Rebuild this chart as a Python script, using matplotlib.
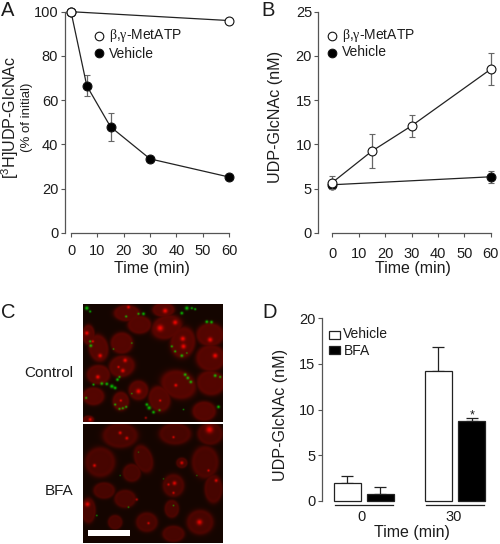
import numpy as np
import matplotlib
matplotlib.use('Agg')
import matplotlib.pyplot as plt
from matplotlib.lines import Line2D
from matplotlib.patches import Rectangle

plt.rcParams['font.family'] = ['Liberation Sans', 'DejaVu Sans']
plt.rcParams['mathtext.fontset'] = 'custom'
plt.rcParams['mathtext.rm'] = 'Liberation Sans'
plt.rcParams['mathtext.it'] = 'Liberation Serif'
plt.rcParams['mathtext.default'] = 'regular'

W, H = 500, 544
TXT = '#1c1c1c'
AX = '#555555'
LBL = r'$\mathit{\beta}$,$\mathit{\gamma}$-MetATP'

# Panel A
a_open_t = [0, 60]
a_open_v = [100, 96]
a_veh_t = [0, 6, 15, 30, 60]
a_veh_v = [100, 66.5, 48, 33.5, 25.3]
a_veh_e = [0, 4.8, 6.3, 0.8, 0.6]
# Panel B
b_open_t = [0, 15, 30, 60]
b_open_v = [5.7, 9.25, 12.1, 18.5]
b_open_e = [0.7, 1.95, 1.2, 1.8]
b_veh_t = [0, 60]
b_veh_v = [5.45, 6.35]
b_veh_e = [0.3, 0.65]
# Panel D
d_groups = ['0', '30']
d_vehicle = [1.9, 14.2]
d_vehicle_e = [0.8, 2.6]
d_bfa = [0.75, 8.7]
d_bfa_e = [0.8, 0.35]

# Panel C: micrograph contents (cx, cy, w, h, angle) in image pixels
ctrl_nuclei = [(265,135,38,62,0),(295,175,60,84,-10),(365,160,68,66,0),(418,105,72,55,0),
    (500,112,96,72,-20),(380,70,80,50,0),(490,60,68,44,0),(548,158,76,96,10),(630,135,84,72,0),
    (632,205,90,82,0),(295,255,72,60,0),(365,230,80,66,-15),(535,285,110,86,20),(632,280,86,76,10),
    (415,302,60,60,0),(362,335,50,58,0),(478,328,66,80,-15),(612,365,72,60,0),(280,320,66,55,0),(265,390,34,24,0)]
ctrl_spots = [(480,115,8),(525,98,6),(548,147,6),(550,170,6),(630,150,6),(645,198,6),(495,63,6),
    (300,198,5),(375,212,5),(368,243,5),(293,262,5),(355,232,3),(415,305,6),(527,287,4),(362,333,3),
    (480,333,3),(278,155,3),(260,130,5),(385,52,4),(270,390,4),(437,385,3)]
ctrl_green = [(260,55,5),(270,65,3),(378,80,3),(415,72,3),(430,72,4),(560,55,5),(575,55,3),(545,70,4),(585,58,3),
    (620,96,4),(634,97,4),(272,168,4),(270,155,3),(340,178,2),(395,160,2),(515,170,3),(525,185,3),(545,198,4),
    (560,190,2),(305,282,4),(320,283,4),(335,290,5),(352,270,4),(358,262,3),(345,295,4),(555,255,4),(563,265,4),
    (572,277,4),(645,258,4),(660,262,3),(258,325,3),(345,345,3),(378,352,3),(368,356,3),(358,358,3),
    (440,345,4),(447,355,5),(460,368,4),(478,362,3),(550,360,2),(655,352,4),(395,312,2),(280,285,3)]
bfa_nuclei = [(360,440,108,76,0),(525,435,98,66,0),(630,435,78,68,0),(300,520,92,92,0),(430,510,55,88,-20),
    (615,520,82,100,0),(545,522,34,32,0),(520,590,66,70,0),(312,605,66,50,0),(375,630,66,55,0),
    (640,600,55,88,0),(265,665,44,78,0),(515,660,44,55,0),(440,700,66,60,0),(600,700,82,76,0),
    (345,700,44,44,0),(520,735,68,50,0),(395,552,55,55,0)]
bfa_spots = [(628,422,9),(360,432,4),(380,448,4),(283,530,4),(505,587,3),(523,583,5),(520,612,3),
    (262,646,6),(598,700,7),(648,575,4),(445,703,3),(625,545,3),(520,445,3),(410,632,3),(545,522,4)]
bfa_green = [(290,680,2),(385,655,2),(520,650,2),(360,560,1.5),(490,570,1.5),(415,490,1.5),(590,560,1.5)]


def render(x0, x1, y0, y1, nuclei, spots, green, nuc_level):
    yy, xx = np.mgrid[y0:y1:1j * (y1 - y0), x0:x1:1j * (x1 - x0)]
    base = 0.08
    r = np.full(xx.shape, base)
    g = np.full(xx.shape, 0.02)
    b = np.full(xx.shape, 0.0)
    for cx, cy, w, h, ang in nuclei:
        t = np.deg2rad(ang)
        dx, dy = xx - cx, yy - cy
        u = (dx * np.cos(t) + dy * np.sin(t)) / (w / 2)
        v = (-dx * np.sin(t) + dy * np.cos(t)) / (h / 2)
        d = np.sqrt(u ** 2 + v ** 2)
        mask = 1 / (1 + np.exp((d - 1) * 10))
        rim = np.exp(-((d - 0.88) / 0.14) ** 2)
        r = np.maximum(r, base + mask * (nuc_level + 0.07 * rim))
    for cx, cy, s in spots:
        r += 0.62 * np.exp(-((xx - cx) ** 2 + (yy - cy) ** 2) / (2 * (0.8 * s) ** 2))
    for cx, cy, s in green:
        e = np.exp(-((xx - cx) ** 2 + (yy - cy) ** 2) / (2 * (0.75 * s) ** 2))
        g += 0.75 * e
        r *= 1 - 0.7 * np.clip(e, 0, 1)
    return np.clip(np.dstack([r, g, b]), 0, 1)


fig = plt.figure(figsize=(W / 100, H / 100), dpi=100, facecolor='white')


def axes_px(x0, y0, x1, y1):
    return fig.add_axes([x0 / W, 1 - y1 / H, (x1 - x0) / W, (y1 - y0) / H])


def txt(x, y, s, size=10, ha='center', va='center', **kw):
    return fig.text(x / W, 1 - y / H, s, fontsize=size, ha=ha, va=va, color=TXT, **kw)


def mark(x, y, fc):
    fig.add_artist(Line2D([x / W], [1 - y / H], marker='o', ms=6.2, mfc=fc, mec='#111111',
                          mew=0.8, ls='none', transform=fig.transFigure))


def style(ax, xb, yb, xticks, yticks):
    for s in ('top', 'right'):
        ax.spines[s].set_visible(False)
    ax.spines['left'].set_bounds(*yb)
    ax.spines['bottom'].set_bounds(*xb)
    for s in ('left', 'bottom'):
        ax.spines[s].set_color(AX)
        ax.spines[s].set_linewidth(0.9)
    ax.set_xticks(xticks)
    ax.set_yticks(yticks)
    ax.tick_params(axis='both', length=3, width=0.8, color=AX, labelsize=10.5, labelcolor=TXT, pad=1.5)
    ax.tick_params(axis='x', pad=5)
    ax.patch.set_alpha(0)


def series(ax, t, v, e, fc, z):
    ax.errorbar(t, v, yerr=e, color='#222222', ecolor='#666666', elinewidth=0.9, capsize=2.2, capthick=0.9,
                marker='o', ms=6.4, mfc=fc, mec='#111111', mew=0.8, lw=0.9, clip_on=False, zorder=z)


# A
axA = axes_px(64.5, 11.7, 229, 233)
axA.set_xlim(-6.5 / (158 / 60), 60)
axA.set_ylim(0, 100)
style(axA, (0, 60), (0, 100), range(0, 61, 10), range(0, 101, 20))
series(axA, a_veh_t, a_veh_v, a_veh_e, '#000000', 3)
series(axA, a_open_t, a_open_v, None, 'white', 4)
txt(1, 10, 'A', 14.5, ha='left')
txt(10, 117, r'[$^{3}$H]UDP-GlcNAc', 11.6, rotation=90)
txt(27, 117, '(% of initial)', 9.5, rotation=90)
txt(152, 268, 'Time (min)', 11.5)
mark(98.7, 36, 'white')
mark(98.7, 52.7, 'black')
txt(109, 36, LBL, 10, ha='left')
txt(109, 53.5, 'Vehicle', 10, ha='left')

# B
axB = axes_px(318.3, 11.7, 490.7, 233)
axB.set_xlim(-14 / (158.4 / 60), 60)
axB.set_ylim(0, 25)
style(axB, (0, 60), (0, 25), range(0, 61, 10), range(0, 26, 5))
axB.tick_params(axis='x', pad=7)
series(axB, b_veh_t, b_veh_v, b_veh_e, '#000000', 3)
series(axB, b_open_t, b_open_v, b_open_e, 'white', 4)
txt(261, 10, 'B', 14.5, ha='left')
txt(275.5, 117, 'UDP-GlcNAc (nM)', 11.6, rotation=90)
txt(413, 268, 'Time (min)', 11.5)
mark(331.5, 36, 'white')
mark(331.5, 52.5, 'black')
txt(342, 36, LBL, 10, ha='left')
txt(342, 52.5, 'Vehicle', 10, ha='left')

# C
axC = axes_px(83, 304, 222, 543)
axC.axis('off')
axC.imshow(render(249, 668, 43, 397, ctrl_nuclei, ctrl_spots, ctrl_green, 0.25),
           extent=(249, 668, 397, 43), aspect='auto', interpolation='bilinear')
axC.imshow(render(249, 668, 406, 762, bfa_nuclei, bfa_spots, bfa_green, 0.20),
           extent=(249, 668, 762, 406), aspect='auto', interpolation='bilinear')
axC.set_xlim(249, 668)
axC.set_ylim(762, 43)
axC.add_patch(Rectangle((265, 724), 125, 16, fc='white', ec='none'))
txt(1, 313, 'C', 14.5, ha='left')
txt(73, 373, 'Control', 11, ha='right')
txt(73, 491, 'BFA', 11, ha='right')

# D
axD = axes_px(321.7, 318.3, 490, 500.7)
gap = 91.3
axD.set_xlim(-42 / gap, 126.3 / gap)
axD.set_ylim(0, 20)
style(axD, (-42 / gap, 126.3 / gap), (0, 20), [], range(0, 21, 5))
axD.spines['bottom'].set_visible(False)
gx = np.arange(len(d_groups))
off, bw = 16.7 / gap, 27 / gap
for xs, vals, errs, fc in ((gx - off, d_vehicle, d_vehicle_e, 'white'), (gx + off, d_bfa, d_bfa_e, 'black')):
    axD.bar(xs, vals, bw, color=fc, edgecolor='#222222', lw=0.9, clip_on=False, zorder=3)
    axD.errorbar(xs, vals, yerr=[np.zeros(2), errs], fmt='none', ecolor='#222222',
                 elinewidth=0.9, capsize=4.5, capthick=0.9, zorder=2)
axD.text(gx[1] + off, 9.3, '*', fontsize=9, ha='center', va='center', color=TXT)
for g in gx:
    axD.plot([g - 29 / gap, g + 29 / gap], [-0.45, -0.45], color='#222222', lw=0.9, clip_on=False)
    axD.text(g - 2.7 / gap if g == 0 else g - 1 / gap, -1.8, d_groups[g], fontsize=10.5,
             ha='center', va='center', color=TXT)
fig.add_artist(Rectangle((329 / W, 1 - 339 / H), 10.5 / W, 8 / H, fc='white', ec='#222222', lw=0.9,
                         transform=fig.transFigure))
fig.add_artist(Rectangle((329 / W, 1 - 353.5 / H), 10.5 / W, 7.5 / H, fc='black', ec='#222222', lw=0.9,
                         transform=fig.transFigure))
txt(343, 334.5, 'Vehicle', 10, ha='left')
txt(344, 351, 'BFA', 10, ha='left')
txt(262, 313, 'D', 14.5, ha='left')
txt(280, 415, 'UDP-GlcNAc (nM)', 11.6, rotation=90)
txt(412, 533, 'Time (min)', 11.5)

fig.savefig('out.png', dpi=100, facecolor='white')
